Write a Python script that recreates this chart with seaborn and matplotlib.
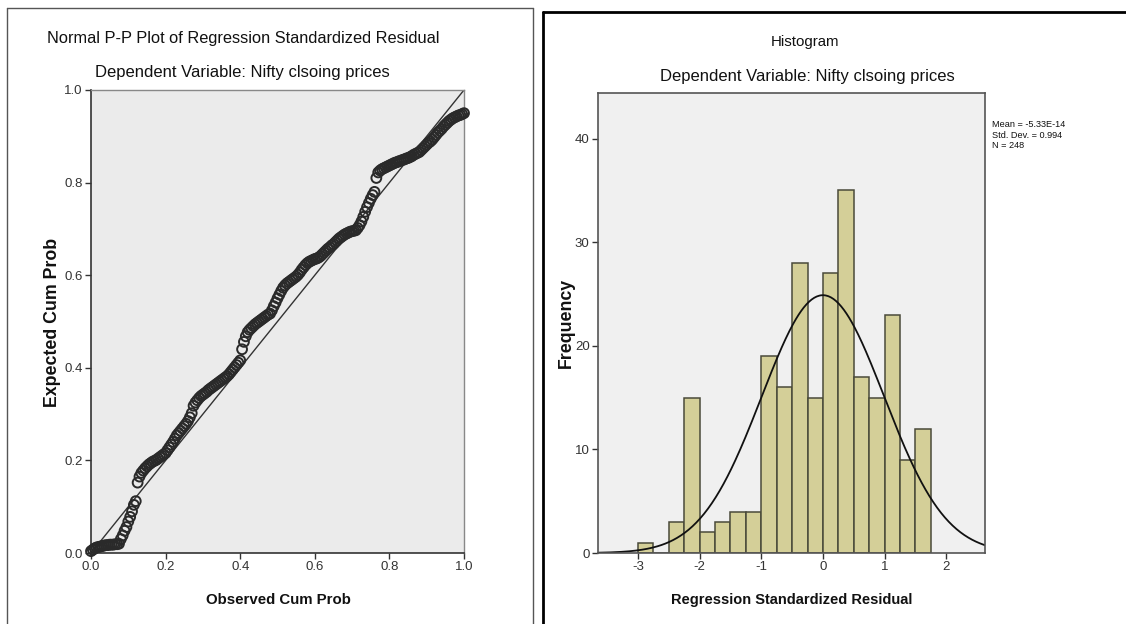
import numpy as np
import pandas as pd
import seaborn as sns
import matplotlib
matplotlib.use("Agg")
import matplotlib.pyplot as plt
from matplotlib import font_manager

sns.set_style("white")
names = {f.name for f in font_manager.fontManager.ttflist}
narrow = "Liberation Sans Narrow" if "Liberation Sans Narrow" in names else "Liberation Sans"
plt.rcParams["font.family"] = [narrow, "DejaVu Sans"]

# ---------------- data ----------------
# P-P plot
obs_cum = [
    0.000, 0.005, 0.010, 0.015, 0.020, 0.025, 0.030, 0.035, 0.040, 0.045,
    0.050, 0.055, 0.060, 0.065, 0.070, 0.075, 0.080, 0.085, 0.090, 0.095,
    0.100, 0.105, 0.110, 0.115, 0.120, 0.125, 0.130, 0.135, 0.140, 0.145,
    0.150, 0.155, 0.160, 0.165, 0.170, 0.175, 0.180, 0.185, 0.190, 0.195,
    0.200, 0.205, 0.210, 0.215, 0.220, 0.225, 0.230, 0.235, 0.240, 0.245,
    0.250, 0.255, 0.260, 0.265, 0.270, 0.275, 0.280, 0.285, 0.290, 0.295,
    0.300, 0.305, 0.310, 0.315, 0.320, 0.325, 0.330, 0.335, 0.340, 0.345,
    0.350, 0.355, 0.360, 0.365, 0.370, 0.375, 0.380, 0.385, 0.390, 0.395,
    0.400, 0.405, 0.410, 0.415, 0.420, 0.425, 0.430, 0.435, 0.440, 0.445,
    0.450, 0.455, 0.460, 0.465, 0.470, 0.475, 0.480, 0.485, 0.490, 0.495,
    0.500, 0.505, 0.510, 0.515, 0.520, 0.525, 0.530, 0.535, 0.540, 0.545,
    0.550, 0.555, 0.560, 0.565, 0.570, 0.575, 0.580, 0.585, 0.590, 0.595,
    0.600, 0.605, 0.610, 0.615, 0.620, 0.625, 0.630, 0.635, 0.640, 0.645,
    0.650, 0.655, 0.660, 0.665, 0.670, 0.675, 0.680, 0.685, 0.690, 0.695,
    0.700, 0.705, 0.710, 0.715, 0.720, 0.725, 0.730, 0.735, 0.740, 0.745,
    0.750, 0.755, 0.760, 0.765, 0.770, 0.775, 0.780, 0.785, 0.790, 0.795,
    0.800, 0.805, 0.810, 0.815, 0.820, 0.825, 0.830, 0.835, 0.840, 0.845,
    0.850, 0.855, 0.860, 0.865, 0.870, 0.875, 0.880, 0.885, 0.890, 0.895,
    0.900, 0.905, 0.910, 0.915, 0.920, 0.925, 0.930, 0.935, 0.940, 0.945,
    0.950, 0.955, 0.960, 0.965, 0.970, 0.975, 0.980, 0.985, 0.990, 0.995,
    1.000]
exp_cum = [
    0.004, 0.007, 0.010, 0.012, 0.013, 0.014, 0.015, 0.016, 0.017, 0.017,
    0.018, 0.018, 0.018, 0.019, 0.019, 0.020, 0.030, 0.038, 0.048, 0.056,
    0.068, 0.078, 0.090, 0.104, 0.112, 0.152, 0.165, 0.173, 0.178, 0.183,
    0.187, 0.191, 0.194, 0.197, 0.199, 0.201, 0.204, 0.207, 0.210, 0.213,
    0.216, 0.222, 0.228, 0.234, 0.240, 0.247, 0.254, 0.259, 0.264, 0.269,
    0.274, 0.279, 0.285, 0.293, 0.302, 0.318, 0.325, 0.330, 0.335, 0.339,
    0.342, 0.345, 0.348, 0.352, 0.355, 0.358, 0.361, 0.364, 0.367, 0.370,
    0.373, 0.376, 0.379, 0.382, 0.386, 0.391, 0.396, 0.401, 0.406, 0.411,
    0.416, 0.440, 0.456, 0.468, 0.477, 0.482, 0.486, 0.490, 0.494, 0.497,
    0.500, 0.503, 0.506, 0.509, 0.512, 0.515, 0.517, 0.524, 0.533, 0.541,
    0.550, 0.558, 0.566, 0.573, 0.578, 0.582, 0.585, 0.588, 0.591, 0.594,
    0.597, 0.601, 0.606, 0.612, 0.617, 0.622, 0.626, 0.629, 0.631, 0.633,
    0.635, 0.636, 0.638, 0.641, 0.645, 0.649, 0.653, 0.657, 0.660, 0.664,
    0.667, 0.671, 0.675, 0.679, 0.682, 0.685, 0.688, 0.690, 0.692, 0.694,
    0.695, 0.696, 0.697, 0.702, 0.708, 0.716, 0.726, 0.737, 0.747, 0.756,
    0.765, 0.773, 0.780, 0.810, 0.822, 0.826, 0.829, 0.831, 0.833, 0.835,
    0.837, 0.839, 0.841, 0.843, 0.844, 0.846, 0.847, 0.849, 0.850, 0.852,
    0.853, 0.855, 0.857, 0.860, 0.862, 0.864, 0.866, 0.870, 0.874, 0.878,
    0.882, 0.886, 0.889, 0.893, 0.898, 0.903, 0.908, 0.912, 0.916, 0.921,
    0.925, 0.929, 0.933, 0.936, 0.939, 0.941, 0.943, 0.945, 0.946, 0.948,
    0.950]

# Histogram (bin edges of width 0.25, counts)
bin_left = [-3.00, -2.75, -2.50, -2.25, -2.00, -1.75, -1.50, -1.25, -1.00, -0.75,
            -0.50, -0.25, 0.00, 0.25, 0.50, 0.75, 1.00, 1.25, 1.50]
counts = [1, 0, 3, 15, 2, 3, 4, 4, 19, 16, 28, 15, 27, 35, 17, 15, 23, 9, 12]
bin_width = 0.25
stat_mean = -5.33e-14
stat_sd = 0.994
stat_n = 248

pp_ticks = [0.0, 0.2, 0.4, 0.6, 0.8, 1.0]
hist_xticks = [-3, -2, -1, 0, 1, 2]
hist_yticks = [0, 10, 20, 30, 40]

# ---------------- figure ----------------
W, H = 1126, 624
fig = plt.figure(figsize=(W / 100, H / 100), dpi=100)
fig.patch.set_facecolor("white")

def fx(px):
    return px / W

def fy(py):
    return 1 - py / H

# panel borders
fig.add_artist(plt.Line2D([fx(7), fx(7)], [fy(8), 0], color="#555555", lw=1.0))
fig.add_artist(plt.Line2D([fx(7), fx(533)], [fy(8), fy(8)], color="#555555", lw=1.0))
fig.add_artist(plt.Line2D([fx(533), fx(533)], [fy(8), 0], color="#555555", lw=1.0))
fig.add_artist(plt.Line2D([fx(543), fx(543)], [fy(12), 0], color="black", lw=2.0))
fig.add_artist(plt.Line2D([fx(543), 1], [fy(12), fy(12)], color="black", lw=2.0))

tick_col = "#333333"

# ---- P-P plot ----
ax1 = fig.add_axes([fx(91), fy(553), fx(464) - fx(91), fy(90) - fy(553)])
ax1.set_facecolor("#ebebeb")
pp = pd.DataFrame({"obs": obs_cum, "exp": exp_cum})
sns.lineplot(x=[0, 1], y=[0, 1], ax=ax1, color="#333333", lw=1.0)
sns.scatterplot(data=pp, x="obs", y="exp", ax=ax1, s=50, marker="o",
                facecolor="none", edgecolor="#2a2a2a", linewidth=1.4, zorder=3,
                clip_on=False)
ax1.set_xlim(0, 1)
ax1.set_ylim(0, 1)
ax1.set_xticks(pp_ticks)
ax1.set_yticks(pp_ticks)
ax1.set_xticklabels([f"{t:.1f}" for t in pp_ticks])
ax1.set_yticklabels([f"{t:.1f}" for t in pp_ticks])
ax1.tick_params(direction="out", length=4, width=1, colors=tick_col, labelsize=9.5,
                bottom=True, left=True, pad=2)
for s in ["left", "bottom"]:
    ax1.spines[s].set_color("#333333")
    ax1.spines[s].set_linewidth(1.2)
for s in ["top", "right"]:
    ax1.spines[s].set_color("#888888")
    ax1.spines[s].set_linewidth(1.0)
ax1.set_xlabel("")
ax1.set_ylabel("")

fig.text(fx(243), fy(38), "Normal P-P Plot of Regression Standardized Residual",
         ha="center", va="center", fontsize=11.8, color="#111111")
fig.text(fx(242), fy(73), "Dependent Variable: Nifty clsoing prices",
         ha="center", va="center", fontsize=12, color="#111111")
fig.text(fx(278), fy(600), "Observed Cum Prob", ha="center", va="center",
         fontsize=10.8, fontweight="bold", color="#111111")
fig.text(fx(53), fy(322), "Expected Cum Prob", ha="center", va="center",
         rotation=90, fontsize=12.8, fontweight="bold", color="#111111")

# ---- Histogram ----
ax2 = fig.add_axes([fx(598), fy(553), fx(985) - fx(598), fy(93) - fy(553)])
ax2.set_facecolor("#f0f0f0")
edges = bin_left + [bin_left[-1] + bin_width]
centers = [b + bin_width / 2 for b in bin_left]
hist_df = pd.DataFrame({"center": centers, "count": counts})
sns.histplot(data=hist_df, x="center", weights="count", bins=edges, ax=ax2,
             color="#d4cf98", alpha=1.0, edgecolor="#4a4a3a", linewidth=1.1)
xs = np.linspace(-3.65, 2.63, 300)
curve = stat_n * bin_width / (stat_sd * np.sqrt(2 * np.pi)) * np.exp(-0.5 * ((xs - stat_mean) / stat_sd) ** 2)
sns.lineplot(x=xs, y=curve, ax=ax2, color="#111111", lw=1.3)
ax2.set_xlim(-3.65, 2.63)
ax2.set_ylim(0, 44.4)
ax2.set_xticks(hist_xticks)
ax2.set_yticks(hist_yticks)
ax2.set_xticklabels([str(t) for t in hist_xticks])
ax2.set_yticklabels([str(t) for t in hist_yticks])
ax2.tick_params(direction="out", length=4, width=1, colors=tick_col, labelsize=9.5,
                bottom=True, left=True, pad=2)
for s in ax2.spines.values():
    s.set_color("#555555")
    s.set_linewidth(1.2)
ax2.set_xlabel("")
ax2.set_ylabel("")

fig.text(fx(805), fy(42), "Histogram", ha="center", va="center",
         fontsize=10.8, color="#111111")
fig.text(fx(807), fy(77), "Dependent Variable: Nifty clsoing prices",
         ha="center", va="center", fontsize=12, color="#111111")
fig.text(fx(792), fy(600), "Regression Standardized Residual", ha="center",
         va="center", fontsize=10.5, fontweight="bold", color="#111111")
fig.text(fx(566), fy(323), "Frequency", ha="center", va="center", rotation=90,
         fontsize=12.8, fontweight="bold", color="#111111")
fig.text(fx(992), fy(135), f"Mean = -5.33E-14\nStd. Dev. = {stat_sd}\nN = {stat_n}",
         ha="left", va="center", fontsize=6.6, color="#111111", linespacing=1.15)

fig.savefig("out.png", dpi=100)
